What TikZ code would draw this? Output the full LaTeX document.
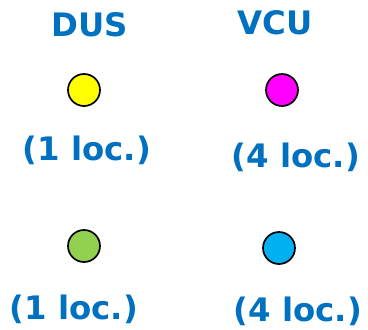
\documentclass[tikz,border=0pt]{standalone}
\usepackage{fontspec}
\setmainfont{DejaVu Sans}
\definecolor{txtblue}{HTML}{0070C0}
\definecolor{dusyellow}{HTML}{FFFF00}
\definecolor{vcumagenta}{HTML}{FF00FF}
\definecolor{dusgreen}{HTML}{92D050}
\definecolor{vcublue}{HTML}{00B0F0}
\tikzset{
  lbl/.style={text=txtblue, font=\fontsize{23}{26}\selectfont\bfseries, inner sep=0pt},
  dot/.style={shape=circle, draw=black, very thick, minimum size=0.8cm, inner sep=0pt}
}

\begin{document}
\begin{tikzpicture}
\useasboundingbox (0,0) rectangle (9.2,-8.25);
\node[lbl] (DUS) at (2.25, -0.625) {DUS};
\node[lbl] (VCU) at (6.875, -0.575) {VCU};
\node[dot, fill=dusyellow] (D1) at (2.1, -2.25) {};
\node[dot, fill=vcumagenta] (V1) at (7.05, -2.25) {};
\node[lbl] (LD1) at (2.175, -3.75) {(1 loc.)};
\node[lbl] (LV1) at (7.4, -3.925) {(4 loc.)};
\node[dot, fill=dusgreen] (D2) at (2.1, -6.15) {};
\node[dot, fill=vcublue] (V2) at (6.975, -6.2) {};
\node[lbl] (LD2) at (1.85, -7.725) {(1 loc.)};
\node[lbl] (LV2) at (7.45, -7.775) {(4 loc.)};
\end{tikzpicture}
\end{document}
